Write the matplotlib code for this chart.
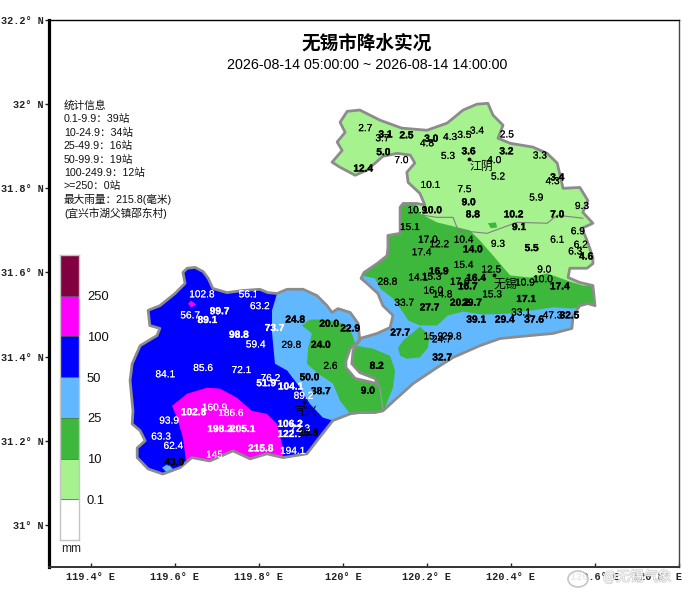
import matplotlib
matplotlib.use("Agg")
import matplotlib.pyplot as plt
import matplotlib.patheffects as pe
from matplotlib.patches import Polygon, Rectangle, Ellipse
from matplotlib.transforms import ScaledTranslation

SANS = ['Liberation Sans', 'Noto Sans CJK SC', 'DejaVu Sans']
CJK = ['Noto Sans CJK SC', 'DejaVu Sans']
plt.rcParams['font.family'] = SANS

# ---------------- rain classes ----------------
class_colors = ['#ffffff', '#a6f28e', '#3db83d', '#61b8ff', '#0000ff', '#ff00ff', '#800040']
class_labels = ['0.1', '10', '25', '50', '100', '250']

# ---------------- stations: west ----------------
west_lon = [119.664,119.775,119.802,119.636,119.706,119.677,119.837,119.886,119.967,120.017,
            119.752,119.792,119.877,119.947,119.667,119.758,119.577,119.970,119.827,119.817,
            119.920,119.875,119.947,119.906,119.586,119.644,119.694,119.733,119.707,119.761,
            119.874,119.898,119.874,119.917,119.567,119.596,119.804,119.880,119.704,119.598]
west_lat = [31.548,31.548,31.520,31.498,31.508,31.487,31.468,31.488,31.478,31.467,
            31.452,31.429,31.428,31.428,31.373,31.368,31.358,31.378,31.349,31.337,
            31.351,31.329,31.318,31.307,31.248,31.268,31.279,31.266,31.228,31.228,
            31.240,31.229,31.216,31.219,31.210,31.188,31.182,31.176,31.167,31.149]
west_rain = [102.8,56.1,63.2,56.7,99.7,89.1,73.7,24.8,20.0,22.9,
             98.8,59.4,29.8,24.0,85.6,72.1,84.1,2.6,76.2,51.9,
             50.0,104.1,38.7,89.2,93.9,102.8,160.9,186.6,198.2,205.1,
             106.2,72.3,122.7,25.8,63.3,62.4,215.8,194.1,145.0,43.0]
west_bold = [0,0,0,0,1,1,1,1,1,1,
             1,0,0,1,0,0,0,0,0,1,
             1,1,1,0,0,1,0,0,1,1,
             1,0,1,1,0,0,1,0,0,1]

# ---------------- stations: north ----------------
north_lon = [120.053,120.101,120.094,120.151,120.210,120.200,120.255,120.289,120.319,120.390,
             120.096,120.139,120.250,120.299,120.389,120.469,120.360,120.048,120.369,120.510,
             120.499,120.208,120.289,120.460,120.299,120.569,120.177,120.212,120.309,120.406,
             120.510,120.159,120.419,120.559,120.202,120.229,120.287,120.309,120.369,120.449,
             120.510,120.566,120.553,120.579,120.187]
north_lat = [31.943,31.928,31.919,31.926,31.918,31.907,31.922,31.927,31.937,31.928,
             31.886,31.867,31.877,31.888,31.888,31.878,31.867,31.847,31.828,31.826,
             31.817,31.808,31.798,31.778,31.767,31.758,31.748,31.748,31.738,31.738,
             31.738,31.708,31.708,31.698,31.678,31.667,31.678,31.655,31.668,31.658,
             31.678,31.666,31.650,31.638,31.648]
north_rain = [2.7,3.1,3.7,2.5,3.0,4.8,4.3,3.5,3.4,2.5,
              5.0,7.0,5.3,3.6,3.2,3.3,4.0,12.4,5.2,3.4,
              4.3,10.1,7.5,5.9,9.0,9.3,10.9,10.0,8.8,10.2,
              7.0,15.1,9.1,6.9,17.0,12.2,10.4,14.0,9.3,5.5,
              6.1,6.2,6.3,4.6,17.4]
north_bold = [0,1,0,1,1,0,0,0,0,0,
              1,0,0,1,1,0,0,1,0,1,
              0,0,0,0,1,0,0,1,1,1,
              1,0,1,0,0,0,0,1,0,1,
              0,0,0,1,0]

# ---------------- stations: south-east ----------------
east_lon = [120.287,120.353,120.479,120.228,120.179,120.211,120.317,120.476,120.106,120.278,
            120.433,120.297,120.516,120.215,120.237,120.355,120.436,120.146,120.278,120.307,
            120.206,120.424,120.499,120.539,120.317,120.385,120.455,120.136,120.215,120.259,
            120.235,120.236,120.080,120.059]
east_lat = [31.618,31.607,31.607,31.603,31.588,31.590,31.587,31.584,31.578,31.578,
            31.576,31.567,31.567,31.557,31.548,31.548,31.537,31.528,31.528,31.528,
            31.517,31.505,31.498,31.498,31.488,31.488,31.488,31.457,31.448,31.448,
            31.441,31.398,31.378,31.319]
east_rain = [15.4,12.5,9.0,16.9,14.1,15.3,16.4,10.0,28.8,17.6,
             10.9,16.7,17.4,16.0,14.8,15.3,17.1,33.7,20.2,29.7,
             27.7,33.1,47.3,32.5,39.1,29.4,37.6,27.7,15.9,29.8,
             24.7,32.7,8.2,9.0]
east_bold = [0,0,0,1,0,0,1,0,0,0,
             0,1,1,0,0,0,1,0,1,1,
             1,0,0,1,1,1,1,1,0,0,
             0,1,1,1]

# labels partly hidden in the reference: rain value -> last visible longitude
cut_labels = {56.1: 119.793, 145.0: 119.712}

# ---------------- cities ----------------
city_names = ['宜兴', '江阴', '无锡']
city_lon = [119.907, 120.300, 120.360]
city_lat = [31.293, 31.870, 31.593]
city_label_lon = [119.911, 120.330, 120.387]
city_label_lat = [31.271, 31.852, 31.571]

# ---------------- boundary ----------------
outline_lon = [119.619,119.629,119.648,119.667,119.679,119.690,119.724,119.760,119.802,119.821,119.843,119.867,
    119.905,119.938,119.962,119.974,119.988,120.017,120.036,120.040,120.017,120.007,120.007,120.029,120.081,120.086,
    120.076,120.040,120.021,120.024,120.040,120.081,120.112,120.119,120.095,120.083,120.057,120.043,120.050,120.081,
    120.105,120.107,120.107,120.136,120.136,120.143,120.176,120.195,120.183,120.155,120.152,120.171,120.160,120.129,
    120.095,120.057,120.029,119.993,119.974,119.998,119.986,120.005,119.993,120.010,120.040,120.088,120.140,120.200,
    120.248,120.286,120.319,120.345,120.357,120.381,120.369,120.398,120.452,120.486,120.510,120.524,120.564,120.583,
    120.571,120.595,120.569,120.581,120.595,120.595,120.581,120.540,120.536,120.564,120.595,120.600,120.583,120.564,
    120.548,120.545,120.500,120.445,120.374,120.326,120.262,120.224,120.167,120.129,120.095,120.076,120.040,120.017,
    119.976,119.938,119.914,119.857,119.819,119.779,119.738,119.683,119.640,119.612,119.571,119.536,119.510,119.510,
    119.529,119.517,119.498,119.500,119.493,119.498,119.517,119.557,119.564,119.540,119.536,119.564,119.600,119.624]
outline_lat = [31.600,31.610,31.612,31.602,31.586,31.562,31.552,31.557,31.560,31.552,31.550,31.560,
    31.560,31.545,31.521,31.505,31.514,31.505,31.479,31.438,31.419,31.390,31.374,31.348,31.336,31.331,
    31.348,31.362,31.383,31.414,31.443,31.455,31.469,31.498,31.521,31.550,31.574,31.586,31.600,31.621,
    31.640,31.660,31.688,31.693,31.755,31.764,31.764,31.760,31.788,31.814,31.838,31.860,31.879,31.883,
    31.876,31.843,31.831,31.850,31.862,31.890,31.910,31.933,31.957,31.983,31.986,31.962,31.943,31.938,
    31.955,31.986,32.000,32.002,31.974,31.950,31.919,31.907,31.898,31.883,31.860,31.800,31.802,31.771,
    31.743,31.717,31.705,31.676,31.636,31.621,31.610,31.610,31.588,31.576,31.569,31.521,31.526,31.521,
    31.498,31.467,31.455,31.450,31.443,31.426,31.398,31.374,31.336,31.302,31.271,31.267,31.267,31.264,
    31.248,31.200,31.169,31.160,31.169,31.157,31.176,31.152,31.160,31.136,31.121,31.133,31.160,31.183,
    31.200,31.224,31.240,31.271,31.343,31.383,31.426,31.450,31.467,31.474,31.510,31.521,31.550,31.574]

inner_lon = [120.195,120.190,120.224,120.262,120.274,120.343,120.414,120.486,120.510,120.571]
inner_lat = [31.760,31.736,31.731,31.731,31.700,31.693,31.719,31.717,31.736,31.729]
inner2_lon = [120.088,120.095]
inner2_lat = [31.326,31.276]

# ---------------- rain zones (clipped to the boundary) ----------------
blue_lon = [119.421,119.843,119.843,119.831,119.831,119.838,119.867,119.898,119.921,119.952,119.976,119.993,119.421]
blue_lat = [31.652,31.652,31.550,31.510,31.457,31.383,31.367,31.326,31.288,31.255,31.248,31.105,31.105]
pink_lon = [119.593,119.629,119.676,119.707,119.748,119.783,119.819,119.843,119.857,119.857,119.629,119.619,119.607]
pink_lat = [31.283,31.312,31.326,31.324,31.302,31.271,31.264,31.240,31.183,31.129,31.129,31.207,31.248]
green_w_lon = [119.902,119.921,119.962,120.000,120.021,120.031,120.071,120.112,120.124,120.119,120.100,120.093,
               120.017,120.017,119.993,119.976,119.940,119.914,119.917,119.926]
green_w_lat = [31.474,31.488,31.488,31.479,31.455,31.426,31.419,31.402,31.367,31.326,31.279,31.252,
               31.252,31.264,31.295,31.336,31.360,31.383,31.421,31.455]
green_n_lon = [120.043,120.076,120.088,120.119,120.143,120.155,120.183,120.224,120.250,120.286,120.333,120.390,
               120.452,120.500,120.548,120.588,120.636,120.636,120.029]
green_n_lat = [31.593,31.586,31.562,31.538,31.505,31.486,31.474,31.474,31.498,31.507,31.500,31.502,
               31.510,31.517,31.514,31.526,31.526,31.771,31.771]
lobe_lon = [120.183,120.207,120.202,120.183,120.152,120.136,120.131,120.143]
lobe_lat = [31.471,31.450,31.421,31.398,31.395,31.402,31.421,31.438]
lgreen_lon = [120.174,120.183,120.224,120.302,120.326,120.367,120.398,120.445,120.486,120.533,120.571,120.636,120.636,119.969,119.969]
lgreen_lat = [31.764,31.740,31.719,31.700,31.676,31.629,31.593,31.588,31.598,31.581,31.569,31.569,32.033,32.033,31.764]
spot_blue_lon = [119.569,119.583,119.595,119.581]
spot_blue_lat = [31.136,31.145,31.133,31.124]
spot_pink_lon = [119.631,119.638,119.650,119.638]
spot_pink_lat = [31.526,31.533,31.524,31.517]
spot_green_lon = [120.345,120.364,120.367,120.352]
spot_green_lat = [31.717,31.719,31.707,31.705]

stats_lines = ['统计信息', '0.1-9.9：39站', '10-24.9：34站', '25-49.9：16站', '50-99.9：19站',
               '100-249.9：12站', '>=250：0站', '最大雨量：215.8(毫米)', '(宜兴市湖父镇邵东村)']

W, H = 690, 593
fig = plt.figure(figsize=(W / 100, H / 100), dpi=100, facecolor='white')
ax = fig.add_axes([49 / W, (H - 567) / H, 630 / W, 547 / H])
ax.set_xlim(119.3, 120.8)
ax.set_ylim(30.9, 32.2)

# boundary and zones
xy = list(zip(outline_lon, outline_lat))
base = Polygon(xy, closed=True, facecolor=class_colors[3], edgecolor='none', zorder=1)
ax.add_patch(base)
clip = Polygon(xy, closed=True, transform=ax.transData)
zones = [(blue_lon, blue_lat, 4), (pink_lon, pink_lat, 5), (green_w_lon, green_w_lat, 2),
         (green_n_lon, green_n_lat, 2), (lobe_lon, lobe_lat, 2), (lgreen_lon, lgreen_lat, 1),
         (spot_blue_lon, spot_blue_lat, 3), (spot_pink_lon, spot_pink_lat, 5), (spot_green_lon, spot_green_lat, 2)]
for i, (lo, la, c) in enumerate(zones):
    p = Polygon(list(zip(lo, la)), closed=True, facecolor=class_colors[c], edgecolor='none', zorder=2 + i * 0.01)
    ax.add_patch(p)
    p.set_clip_path(clip)
ax.plot(inner_lon, inner_lat, color='#808080', lw=0.8, zorder=3)
ax.plot(inner2_lon, inner2_lat, color='#a0a0a0', lw=0.7, zorder=3)
ax.add_patch(Polygon(xy, closed=True, facecolor='none', edgecolor='#8c8c8c', lw=2.0, joinstyle='round', zorder=4))

# station labels
for lons, lats, vals, bolds in [(west_lon, west_lat, west_rain, west_bold),
                                (north_lon, north_lat, north_rain, north_bold),
                                (east_lon, east_lat, east_rain, east_bold)]:
    for lo, la, v, b in zip(lons, lats, vals, bolds):
        col = 'white' if v > 50 else 'black'
        t = ax.text(lo, la, f'{v:.1f}', ha='center', va='center', fontsize=7.3,
                    fontweight='bold' if b else 'normal', color=col, zorder=6)
        t.set_path_effects([pe.withStroke(linewidth=0.2 if b else 0.05, foreground=col)])
        if v in cut_labels:
            t.set_clip_path(Rectangle((119.3, 30.9), cut_labels[v] - 119.3, 1.3, transform=ax.transData))
            t.set_clip_on(True)

# cities
ax.scatter(city_lon, city_lat, s=3, color='black', zorder=6)
for n, lo, la in zip(city_names, city_label_lon, city_label_lat):
    ax.text(lo, la, n, ha='center', va='center', fontsize=8.6, family=CJK, color='black', zorder=7)

# axes furniture
xt = [119.4, 119.6, 119.8, 120.0, 120.2, 120.4, 120.6, 120.8]
yt = [31.0, 31.2, 31.4, 31.6, 31.8, 32.0, 32.2]
fmt = lambda v, s: (f'{v:g}° {s}')
ax.set_xticks(xt)
ax.set_xticklabels([fmt(v, 'E') for v in xt], family='Liberation Mono', fontweight='bold', fontsize=7.4, color='#222222')
ax.set_yticks(yt)
ax.set_yticklabels([fmt(v, 'N') for v in yt], family='Liberation Mono', fontweight='bold', fontsize=7.4, color='#222222')
ax.tick_params(axis='x', direction='in', length=3, width=1, pad=3.5, color='#222222')
ax.tick_params(axis='y', direction='out', length=3, width=1, pad=1, color='#222222')
last = ax.get_xticklabels()[-1]
last.set_ha('right')
last.set_transform(last.get_transform() + ScaledTranslation(3 / 100, 0, fig.dpi_scale_trans))
ax.spines['left'].set_linewidth(2.3)
ax.spines['bottom'].set_linewidth(1.4)
ax.spines['bottom'].set_color('#333333')
ax.spines['top'].set_linewidth(1.0)
ax.spines['right'].set_linewidth(1.0)
ax.spines['right'].set_color('#444444')

# titles
def fx(px): return px / W
def fy(py): return 1 - py / H
fig.text(fx(367), fy(43), '无锡市降水实况', ha='center', va='center', fontsize=13.4, fontweight='bold', family=CJK)
fig.text(fx(367), fy(65), '2026-08-14 05:00:00 ~ 2026-08-14 14:00:00', ha='center', va='center', fontsize=10.3)

# stats block
for i, s in enumerate(stats_lines):
    fig.text(fx(64), fy(106 + i * 13.4), s, ha='left', va='center', fontsize=7.7, family=SANS, color='#111111')

# colour bar
cax = fig.add_axes([60 / W, (H - 540) / H, 19 / W, 285 / H])
cax.set_xlim(0, 1)
cax.set_ylim(0, len(class_colors))
for i, c in enumerate(class_colors):
    cax.bar(0.5, 1, width=1, bottom=i, color=c, edgecolor='none')
    if i:
        cax.axhline(i, color='#4a7a4a' if i in (1, 2, 3) else '#555555', lw=0.6)
cax.set_xticks([]); cax.set_yticks([])
for s in cax.spines.values():
    s.set_color('#c4c4c4'); s.set_linewidth(1.0)
for i, s in enumerate(class_labels):
    cax.text(1.42, i + 0.96, s, ha='left', va='center', fontsize=9.4, color='#111111', clip_on=False)
fig.text(fx(71), fy(549), 'mm', ha='center', va='center', fontsize=8.6, color='#222222')

# watermark
wm = pe.withStroke(linewidth=1.0, foreground='#c8c8c8')
fig.text(fx(603), fy(577), '@无锡气象', ha='left', va='center', fontsize=10, family=CJK, color='white',
         alpha=0.85, path_effects=[wm], zorder=10)
fig.add_artist(Ellipse((fx(578), fy(579)), 20 / W, 16 / H, transform=fig.transFigure, facecolor='white',
                       edgecolor='#c0c0c0', lw=1.2, alpha=0.9, zorder=10))

fig.savefig('out.png', dpi=100)
